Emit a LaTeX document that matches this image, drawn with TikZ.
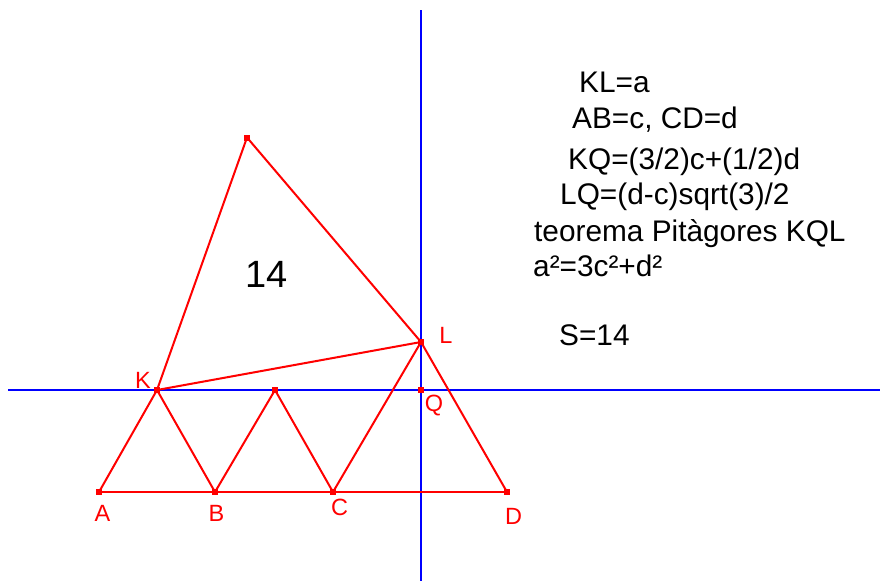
\documentclass[tikz,border=0pt]{standalone}
\usepackage{fontspec}
\setmainfont{Liberation Sans}
\begin{document}
\begin{tikzpicture}[x=1pt,y=-1pt,
  redline/.style={draw=red,line width=2pt},
  blueline/.style={draw=blue,line width=2pt},
  pt/.style={fill=red,minimum size=6pt,inner sep=0pt,draw=none,shape=rectangle},
  lab/.style={text=red,font=\fontsize{23.5}{23.5}\selectfont,inner sep=0pt},
  info/.style={anchor=base west,inner sep=0pt,font=\fontsize{29.8}{29.8}\selectfont}]
\useasboundingbox (0,0) rectangle (880,581);
% axes
\coordinate (hl) at (8,390);
\coordinate (hr) at (880,390);
\coordinate (vt) at (421,10);
\coordinate (vb) at (421,581);
\draw[blueline] (hl) -- (hr);
\draw[blueline] (vt) -- (vb);
% points
\coordinate (A) at (99,492);
\coordinate (B) at (215,492);
\coordinate (C) at (333,492);
\coordinate (D) at (507,492);
\coordinate (K) at (157,390);
\coordinate (P) at (275,390);
\coordinate (Q) at (421,390);
\coordinate (L) at (421,342);
\coordinate (T) at (247,137.5);
% red segments
\draw[redline] (A) -- (D);
\draw[redline] (A) -- (K) -- (B) -- (P) -- (C) -- (L) -- (D);
\draw[redline] (K) -- (L) -- (T) -- cycle;
% markers
\foreach \p in {A,B,C,D,K,P,Q,L,T} \node[pt] at (\p) {};
% labels
\node[lab] (lA) at (102.5,513) {A};
\node[lab] (lB) at (216.5,513) {B};
\node[lab] (lC) at (339.5,507) {C};
\node[lab] (lD) at (513.5,516) {D};
\node[lab] (lK) at (143,380.5) {K};
\node[lab] (lL) at (446,335) {L};
\node[lab] (lQ) at (434,406) {Q};
\node[anchor=base west,inner sep=0pt,font=\fontsize{38}{38}\selectfont] (n14) at (245,287.7) {14};
% info text
\node[info] (t1) at (579,92.3) {KL=a};
\node[info] (t2) at (572,128.3) {AB=c, CD=d};
\node[info] (t3) at (568,169) {KQ=(3/2)c+(1/2)d};
\node[info] (t4) at (560,204) {LQ=(d-c)sqrt(3)/2};
\node[info] (t5) at (534,241.7) {teorema Pitàgores KQL};
\node[info] (t6) at (533,276.7) {a²=3c²+d²};
\node[info] (t7) at (559,345) {S=14};
\end{tikzpicture}
\end{document}
